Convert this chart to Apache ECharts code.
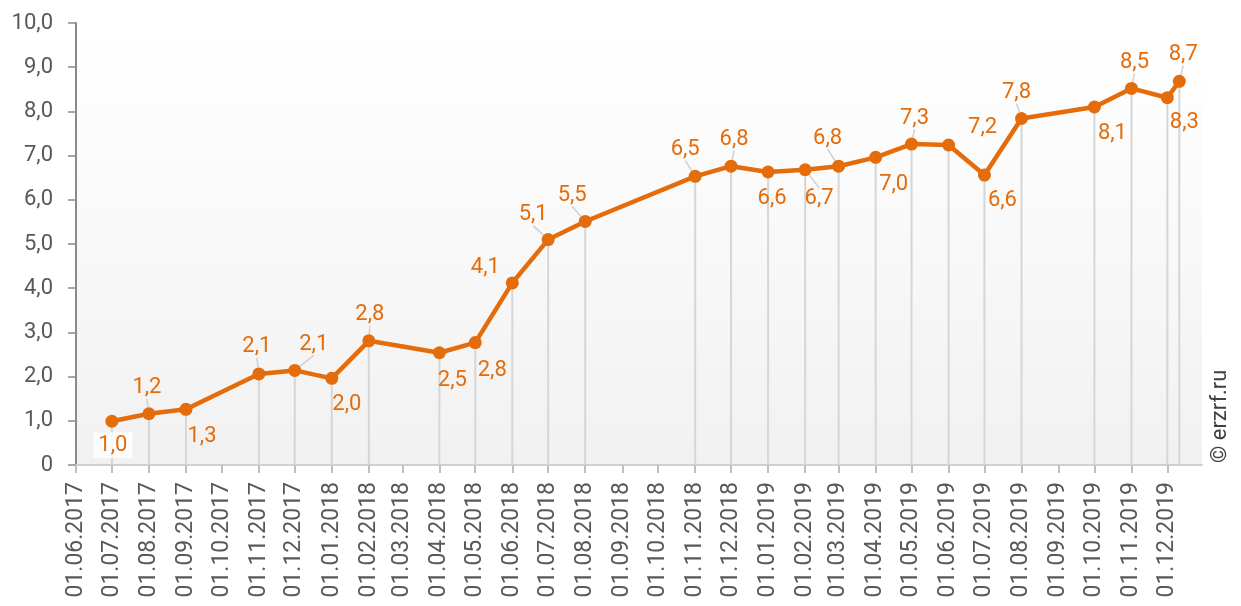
<!DOCTYPE html>
<html>
<head>
<meta charset="utf-8">
<script src="https://cdn.jsdelivr.net/npm/echarts@6/dist/echarts.min.js"></script>
<style>
html,body{margin:0;padding:0;background:#ffffff;}
#chart{width:1241px;height:606px;}
</style>
</head>
<body>
<div id="chart"></div>
<script>
// ---------- data ----------
const xTickLabels = [
  '01.06.2017','01.07.2017','01.08.2017','01.09.2017','01.10.2017','01.11.2017','01.12.2017',
  '01.01.2018','01.02.2018','01.03.2018','01.04.2018','01.05.2018','01.06.2018',
  '01.07.2018','01.08.2018','01.09.2018','01.10.2018','01.11.2018','01.12.2018',
  '01.01.2019','01.02.2019','01.03.2019','01.04.2019','01.05.2019','01.06.2019',
  '01.07.2019','01.08.2019','01.09.2019','01.10.2019','01.11.2019','01.12.2019'
];
const yTickLabels = ['0','1,0','2,0','3,0','4,0','5,0','6,0','7,0','8,0','9,0','10,0'];
const pointDates = [
  '01.07.2017','01.08.2017','01.09.2017','01.11.2017','01.12.2017','01.01.2018',
  '01.02.2018','01.04.2018','01.05.2018','01.06.2018','01.07.2018','01.08.2018',
  '01.11.2018','01.12.2018','01.01.2019','01.02.2019','01.03.2019','01.04.2019',
  '01.05.2019','01.06.2019','01.07.2019','01.08.2019','01.10.2019','01.11.2019',
  '01.12.2019','11.12.2019'
];
const pointValues = [
  0.99, 1.16, 1.26, 2.06, 2.14, 1.96,
  2.81, 2.54, 2.77, 4.12, 5.10, 5.51,
  6.53, 6.76, 6.63, 6.68, 6.76, 6.96,
  7.26, 7.24, 6.56, 7.84, 8.10, 8.52,
  8.31, 8.68
];
const xMinDate = '01.06.2017';
const xMaxDate = '30.12.2019';
const watermarkText = '© erzrf.ru';

// ---------- label placement (style, not data) ----------
const labelOffsets = [
  [1,24],[-2,-26],[16,27],[-2,-27],[19,-26],[15,26],
  [1,-26],[13,28],[17,28],[-27,-15],[-15,-25],[-13,-26],
  [-10,-27],[3,-27],[4,27],[14,29],[-11,-28],[18,27],
  [3,-26],[34,-17],[18,25],[-5,-26],[18,27],[3,-26],
  [17,25],[4,-27]
];
const leaderIdx = [1,3,4,6,10,11,12,13,15,16,18,21,23,25];
const boxedIdx = [0];

// ---------- helpers ----------
const DAY = 86400000;
function parseDate(s){
  const p = s.split('.');
  return Date.UTC(+p[2], +p[1]-1, +p[0]) / DAY;   // day number
}
const tickDays = xTickLabels.map(parseDate);
const labelByDay = {};
tickDays.forEach((t,i)=>{ labelByDay[t] = xTickLabels[i]; });
const fmt = v => v.toFixed(1).replace('.', ',');

const ORANGE = '#E46C0A';
const lineData = pointDates.map((d,i)=>{
  const item = { value: [parseDate(d), pointValues[i]] };
  item.labelLine = { show: leaderIdx.indexOf(i) >= 0 };
  if (boxedIdx.indexOf(i) >= 0) {
    item.label = { backgroundColor: 'rgba(255,255,255,0.8)', padding: [2,5] };
  }
  return item;
});
const dropData = pointDates.map((d,i)=>[parseDate(d), pointValues[i]]);

const chart = echarts.init(document.getElementById('chart'), null, {renderer:'canvas'});
chart.setOption({
  animation: false,
  backgroundColor: '#ffffff',
  grid: {
    left: 76, right: 39, top: 23, bottom: 141,
    show: true, borderWidth: 0,
    backgroundColor: new echarts.graphic.LinearGradient(0,0,0,1,[
      {offset:0, color:'#ffffff'},
      {offset:0.12, color:'#fefefe'},
      {offset:1, color:'#f1f1f1'}
    ])
  },
  xAxis: {
    type: 'value',
    min: parseDate(xMinDate),
    max: parseDate(xMaxDate),
    splitLine: {show:false},
    axisLine: {show:true, lineStyle:{color:'#d0d0d0', width:2}},
    axisTick: {show:true, customValues: tickDays, length:8, lineStyle:{color:'#bfbfbf', width:2}},
    axisLabel: {
      customValues: tickDays,
      rotate: 90,
      margin: 17,
      color: '#595959',
      fontFamily: 'Roboto',
      fontSize: 23,
      formatter: function(v){ return labelByDay[Math.round(v)] || ''; }
    }
  },
  yAxis: {
    type: 'value',
    min: 0, max: 10, interval: 1,
    splitLine: {show:false},
    axisLine: {show:true, lineStyle:{color:'#8a8a8a', width:2}},
    axisTick: {show:true, length:8, lineStyle:{color:'#8a8a8a', width:1.5}},
    axisLabel: {
      margin: 23,
      color: '#595959',
      fontFamily: 'Roboto',
      fontSize: 22,
      formatter: function(v){ return yTickLabels[Math.round(v)]; }
    }
  },
  series: [
    {
      type: 'bar',
      data: dropData,
      barWidth: 2,
      silent: true,
      itemStyle: {color:'#d6d6d6'},
      z: 1
    },
    {
      type: 'line',
      data: lineData,
      symbol: 'circle',
      symbolSize: 13,
      lineStyle: {color: ORANGE, width: 4.5},
      itemStyle: {color: ORANGE},
      z: 3,
      label: {
        show: true,
        position: 'inside',
        color: ORANGE,
        fontFamily: 'Roboto',
        fontSize: 22,
        formatter: function(p){ return fmt(p.value[1]); }
      },
      labelLine: {
        show: false,
        lineStyle: {color:'#d0d0d0', width:1.5}
      },
      labelLayout: function(params){
        const o = labelOffsets[params.dataIndex] || [0,0];
        return {dx: o[0], dy: o[1]};
      }
    }
  ],
  graphic: [
    {
      type: 'text',
      x: 1231, y: 463,
      rotation: Math.PI/2,
      style: {
        text: watermarkText,
        font: '22px Roboto',
        fill: '#404040',
        align: 'left', verticalAlign: 'bottom',
        textAlign: 'left', textVerticalAlign: 'bottom'
      }
    }
  ]
});
</script>
</body>
</html>
